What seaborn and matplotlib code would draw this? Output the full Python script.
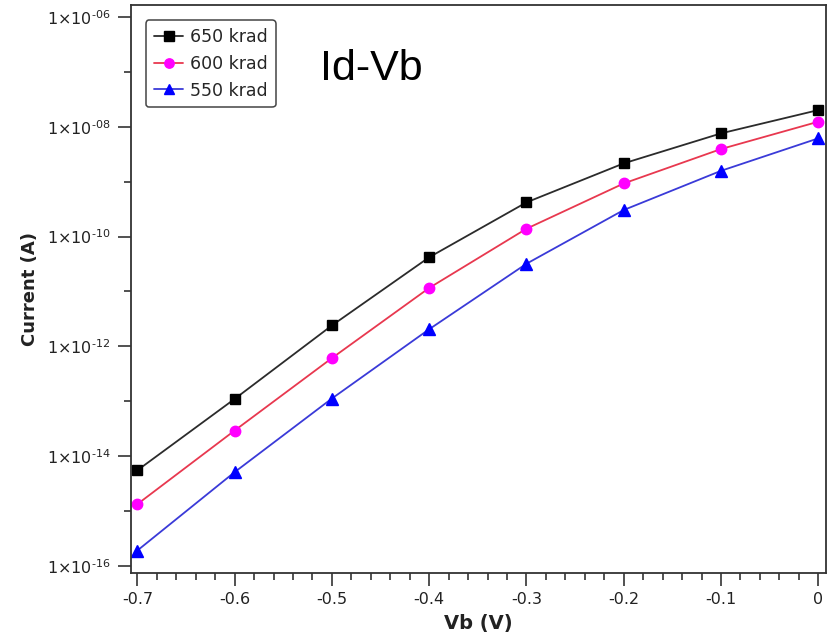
import numpy as np
import pandas as pd
import matplotlib
matplotlib.use("Agg")
import matplotlib.pyplot as plt
from matplotlib.ticker import FixedLocator, MultipleLocator, FixedFormatter
import seaborn as sns

# Gate bias sweep (V)
vb = [-0.7, -0.6, -0.5, -0.4, -0.3, -0.2, -0.1, 0.0]

# Drain current (A) at each total ionising dose
i_650 = [5.5e-15, 1.1e-13, 2.4e-12, 4.2e-11, 4.2e-10, 2.16e-9, 7.6e-9, 2.02e-8]
i_600 = [1.33e-15, 2.92e-14, 6.1e-13, 1.16e-11, 1.39e-10, 9.3e-10, 3.94e-9, 1.24e-8]
i_550 = [1.9e-16, 5.1e-15, 1.12e-13, 2.05e-12, 3.2e-11, 3.05e-10, 1.58e-9, 6.17e-9]

series_labels = ["650 krad", "600 krad", "550 krad"]
x_tick_labels = ["-0.7", "-0.6", "-0.5", "-0.4", "-0.3", "-0.2", "-0.1", "0"]
y_tick_exponents = [-16, -14, -12, -10, -8, -6]

sns.set_style("white")
plt.rcParams["font.family"] = ["DejaVu Sans"]
plt.rcParams["axes.unicode_minus"] = False
plt.rcParams["mathtext.fontset"] = "dejavusans"

fig = plt.figure(figsize=(8.31, 6.41), dpi=100)
ax = fig.add_axes([0.1573, 0.1061, 0.8361, 0.8861])

styles = [
    dict(color="#2b2b2b", marker="s", markerfacecolor="black", markeredgecolor="black", markersize=7.5),
    dict(color="#e8384f", marker="o", markerfacecolor="#ff00ff", markeredgecolor="#ff00ff", markersize=7.5),
    dict(color="#3a3ad8", marker="^", markerfacecolor="#0000ff", markeredgecolor="#0000ff", markersize=8),
]

for values, label, st in zip([i_650, i_600, i_550], series_labels, styles):
    df = pd.DataFrame({"Vb": vb, "I": values})
    sns.lineplot(data=df, x="Vb", y="I", ax=ax, label=label, linewidth=1.3,
                 markeredgewidth=1, **st)

ax.set_yscale("log")
ax.set_xlim(-0.7068, 0.0074)
ax.set_ylim(10 ** -16.13, 10 ** -5.78)

# x ticks
ax.xaxis.set_major_locator(FixedLocator(vb))
ax.xaxis.set_major_formatter(FixedFormatter(x_tick_labels))
ax.xaxis.set_minor_locator(MultipleLocator(0.02))

# y ticks: labelled every second decade, plain ticks in between
major_y = [10.0 ** e for e in y_tick_exponents]
minor_y = [10.0 ** e for e in range(-15, -5, 2)]
ax.yaxis.set_major_locator(FixedLocator(major_y))
ax.yaxis.set_major_formatter(FixedFormatter(
    [r"1$\times$10$^{\text{-%02d}}$" % -e for e in y_tick_exponents]))
ax.yaxis.set_minor_locator(FixedLocator(minor_y))
ax.yaxis.set_minor_formatter(FixedFormatter([""] * len(minor_y)))

ax.tick_params(axis="both", which="major", direction="out", length=9.5, width=1.1,
               color="#222222", labelsize=11.5, labelcolor="#222222",
               bottom=True, left=True, top=False, right=False)
ax.tick_params(axis="x", which="major", pad=4)
ax.tick_params(axis="y", which="major", pad=5)
ax.tick_params(axis="both", which="minor", direction="out", length=5, width=1.1,
               color="#222222", bottom=True, left=True, top=False, right=False)

for sp in ax.spines.values():
    sp.set_visible(True)
    sp.set_linewidth(1.3)
    sp.set_color("#333333")

ax.set_xlabel("Vb (V)", fontsize=14, fontweight="bold", labelpad=5, color="#222222")
ax.set_ylabel("Current (A)", fontsize=13, fontweight="bold", labelpad=6, color="#222222")

leg = ax.legend(loc="upper left", bbox_to_anchor=(0.017, 0.979), fontsize=12.5,
                frameon=True, fancybox=True, edgecolor="#444444", framealpha=1,
                handlelength=1.7, handletextpad=0.4, borderpad=0.45,
                labelspacing=0.5, borderaxespad=0.2, markerscale=0.9)
leg.get_frame().set_linewidth(1.1)

fig.text(0.385, 0.875, "Id-Vb", fontsize=31, family=["Liberation Sans", "DejaVu Sans"],
         va="baseline", ha="left", color="black")

fig.savefig("out.png", dpi=100, facecolor="white")
